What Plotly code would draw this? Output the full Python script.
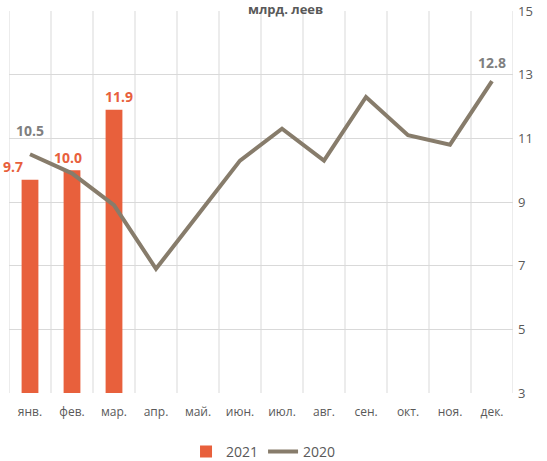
import plotly.graph_objects as go

months = ["янв.", "фев.", "мар.", "апр.", "май.", "июн.", "июл.", "авг.", "сен.", "окт.", "ноя.", "дек."]
values_2021 = [9.7, 10.0, 11.9]
values_2020 = [10.5, 9.9, 8.9, 6.9, 8.6, 10.3, 11.3, 10.3, 12.3, 11.1, 10.8, 12.8]
y_ticks = [3, 5, 7, 9, 11, 13, 15]

bar_color = "#E8603C"
line_color = "#877C6B"
font_fam = "Open Sans, Noto Sans, sans-serif"

fig = go.Figure()
fig.add_trace(go.Bar(
    x=months[:len(values_2021)], y=values_2021, name="2021",
    marker=dict(color=bar_color, line=dict(width=0)),
    width=0.4,
))
fig.add_trace(go.Scatter(
    x=months, y=values_2020, name="2020", mode="lines",
    line=dict(color=line_color, width=4),
))

# data labels
bar_xshift = [-17, -4, 5]
for m, v, dx in zip(months, values_2021, bar_xshift):
    fig.add_annotation(x=m, y=v, text=f"<b>{v:.1f}</b>", showarrow=False,
                       xshift=dx, yshift=13, font=dict(family=font_fam, size=14, color=bar_color),
                       xanchor="center", yanchor="middle")
line_labels = {0: 24, 11: 19}
for i, dy in line_labels.items():
    fig.add_annotation(x=months[i], y=values_2020[i], text=f"<b>{values_2020[i]:.1f}</b>",
                       showarrow=False, yshift=dy,
                       font=dict(family=font_fam, size=14, color="#7F7F7F"),
                       xanchor="center", yanchor="middle")

# title (at the very top)
fig.add_annotation(xref="paper", yref="paper", x=0.548, y=1.031, text="<b>млрд. леев</b>",
                   showarrow=False, xanchor="center", yanchor="top", borderpad=0,
                   font=dict(family=font_fam, size=13, color="#595959"))

fig.update_layout(
    width=547, height=461,
    margin=dict(l=9, r=34, t=11, b=68, autoexpand=False),
    paper_bgcolor="white", plot_bgcolor="white",
    font=dict(family=font_fam, color="#595959", size=12),
    showlegend=True,
    legend=dict(orientation="h", x=0.505, xanchor="center",
                yref="container", y=0.02, yanchor="middle",
                font=dict(size=14, color="#595959"), traceorder="normal",
                itemwidth=30, tracegroupgap=0),
    xaxis=dict(
        type="category", categoryorder="array", categoryarray=months,
        range=[-0.5, 11.5], automargin=False,
        showgrid=False, showline=False, zeroline=False,
        ticks="", ticklabelstandoff=10,
        tickfont=dict(size=12, color="#595959"),
    ),
    yaxis=dict(
        range=[3, 15], tickvals=y_ticks, side="right", automargin=False,
        showgrid=True, gridcolor="#D9D9D9", gridwidth=1,
        zeroline=False, showline=False, ticks="",
        ticklabelstandoff=4,
        tickfont=dict(size=13, color="#595959"),
    ),
)

# vertical category gridlines
for k in range(len(months) + 1):
    fig.add_shape(type="line", xref="x", yref="paper", x0=k - 0.5, x1=k - 0.5, y0=0, y1=1,
                  line=dict(color="#D9D9D9", width=1), layer="below")

fig.write_html("out.html", config={"displayModeBar": False},
               post_script="document.body.style.margin='0';")
